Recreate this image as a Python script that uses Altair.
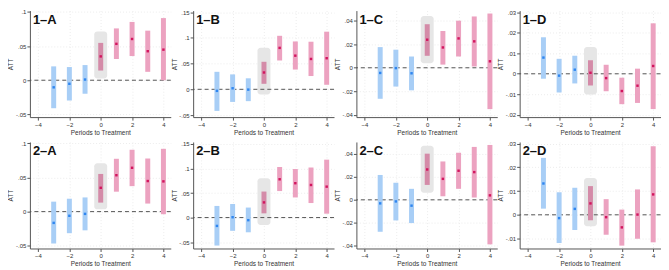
import altair as alt
import pandas as pd

periods = [-3, -2, -1, 0, 1, 2, 3, 4]
phases = ["pre", "pre", "pre", "treat", "post", "post", "post", "post"]

labels = ["1–A", "1–B", "1–C", "1–D", "2–A", "2–B", "2–C", "2–D"]

est_1A = [-0.0104, -0.0052, 0.001, 0.0349, 0.0533, 0.0604, 0.0425, 0.0448]
lo_1A = [-0.041, -0.0297, -0.0198, 0.0142, 0.0311, 0.0354, 0.0123, 0.0]
hi_1A = [0.0203, 0.0193, 0.0222, 0.0547, 0.0759, 0.0854, 0.0726, 0.091]
box_1A = [0.0024, 0.0712]

est_1B = [-0.003, 0.002, -0.0006, 0.0327, 0.0805, 0.0654, 0.059, 0.0604]
lo_1B = [-0.042, -0.0245, -0.023, 0.0107, 0.056, 0.0384, 0.0258, 0.0088]
hi_1B = [0.034, 0.029, 0.0214, 0.0535, 0.104, 0.093, 0.0925, 0.112]
box_1B = [-0.010, 0.081]

est_1C = [-0.0044, -0.0003, -0.0047, 0.0239, 0.0173, 0.025, 0.0225, 0.0055]
lo_1C = [-0.0264, -0.016, -0.0192, 0.0102, 0.0027, 0.0096, 0.0011, -0.0352]
hi_1C = [0.0176, 0.0154, 0.0096, 0.0371, 0.0313, 0.0401, 0.0437, 0.0462]
box_1C = [0.0038, 0.044]

est_1D = [0.0079, -0.0009, 0.002, 0.0005, -0.0021, -0.0084, -0.0058, 0.0038]
lo_1D = [-0.0024, -0.0091, -0.0047, -0.0057, -0.0085, -0.0148, -0.0142, -0.0172]
hi_1D = [0.0178, 0.0073, 0.0088, 0.0066, 0.0044, -0.0019, 0.0025, 0.0246]
box_1D = [-0.0101, 0.0131]

est_2A = [-0.0165, -0.0061, -0.0033, 0.0349, 0.0533, 0.0642, 0.0448, 0.0443]
lo_2A = [-0.0467, -0.0316, -0.0274, 0.0132, 0.0292, 0.0373, 0.0118, -0.0038]
hi_2A = [0.0146, 0.0189, 0.0208, 0.0552, 0.0774, 0.0906, 0.0778, 0.092]
box_2A = [0.0033, 0.0708]

est_2B = [-0.017, 0.0007, -0.0053, 0.0309, 0.078, 0.070, 0.0664, 0.063]
lo_2B = [-0.057, -0.027, -0.030, 0.0086, 0.054, 0.041, 0.0296, 0.0079]
hi_2B = [0.0237, 0.0276, 0.0204, 0.053, 0.103, 0.099, 0.102, 0.118]
box_2B = [-0.015, 0.080]

est_2C = [-0.0031, -0.0014, -0.0051, 0.0265, 0.0183, 0.0254, 0.0242, 0.0039]
lo_2C = [-0.0279, -0.018, -0.0203, 0.013, 0.0031, 0.0096, 0.002, -0.0389]
hi_2C = [0.0217, 0.0149, 0.0096, 0.0403, 0.0335, 0.0411, 0.0462, 0.0479]
box_2C = [0.0062, 0.0473]

est_2D = [0.0132, -0.0014, 0.0025, 0.0048, -0.001, -0.0053, 0.0001, 0.0086]
lo_2D = [0.0026, -0.0119, -0.0064, -0.0023, -0.0084, -0.013, -0.0101, -0.0116]
hi_2D = [0.024, 0.0095, 0.0114, 0.0121, 0.0066, 0.0022, 0.0107, 0.0289]
box_2D = [-0.0048, 0.0155]

ticks_A = [-0.05, 0, 0.05, 0.1]
ticks_B = [-0.05, 0, 0.05, 0.1, 0.15]
ticks_C = [-0.04, -0.02, 0, 0.02, 0.04]
ticks_1D = [-0.02, -0.01, 0, 0.01, 0.02, 0.03]
ticks_2D = [-0.01, 0, 0.01, 0.02, 0.03]

dom_1A = [-0.054, 0.102]
dom_1B = [-0.054, 0.153]
dom_1C = [-0.042, 0.0487]
dom_1D = [-0.0211, 0.0308]
dom_2A = [-0.054, 0.102]
dom_2B = [-0.063, 0.154]
dom_2C = [-0.0425, 0.0505]
dom_2D = [-0.0142, 0.0307]

x_ticks = [-4, -2, 0, 2, 4]
x_dom = [-4.2, 4.15]

panels = [
    (labels[0], est_1A, lo_1A, hi_1A, box_1A, ticks_A, dom_1A),
    (labels[1], est_1B, lo_1B, hi_1B, box_1B, ticks_B, dom_1B),
    (labels[2], est_1C, lo_1C, hi_1C, box_1C, ticks_C, dom_1C),
    (labels[3], est_1D, lo_1D, hi_1D, box_1D, ticks_1D, dom_1D),
    (labels[4], est_2A, lo_2A, hi_2A, box_2A, ticks_A, dom_2A),
    (labels[5], est_2B, lo_2B, hi_2B, box_2B, ticks_B, dom_2B),
    (labels[6], est_2C, lo_2C, hi_2C, box_2C, ticks_C, dom_2C),
    (labels[7], est_2D, lo_2D, hi_2D, box_2D, ticks_2D, dom_2D),
]

FONT = "Liberation Sans"
AX = dict(
    domainColor="#555", tickColor="#555", tickSize=3, labelFontSize=6,
    labelColor="#333", labelFont=FONT, titleFont=FONT, titleFontSize=6.5,
    titleFontWeight="normal", titleColor="#333", gridColor="#ececec",
    gridDash=[1, 2], labelPadding=1, labelOverlap=False,
)
PHASES = ["pre", "treat", "post"]


def make_panel(label, est, lo, hi, box, ticks, dom):
    df = pd.DataFrame({"t": periods, "est": est, "lo": lo, "hi": hi, "phase": phases})
    bdf = pd.DataFrame({"t": [0], "lo": [box[0]], "hi": [box[1]]})
    zdf = pd.DataFrame({"lo": [0]})
    xscale = alt.Scale(domain=x_dom, nice=False, zero=False)
    xaxis = alt.Axis(values=x_ticks, title="Periods to Treatment",
                     labelFlush=False, titlePadding=2, **AX)
    yscale = alt.Scale(domain=dom, nice=False, zero=False)
    yaxis = alt.Axis(values=ticks, title="ATT", minExtent=15, maxExtent=15,
                     titlePadding=1,
                     labelExpr="replace(toString(datum.value), '0.', '.')", **AX)

    def X():
        return alt.X("t:Q", scale=xscale, axis=xaxis)

    def Y(f):
        return alt.Y(f, scale=yscale, axis=yaxis)

    boxm = alt.Chart(bdf).mark_bar(size=13, color="#E6E6E6", cornerRadius=3).encode(
        x=X(), y=Y("lo:Q"), y2="hi:Q")
    zero = alt.Chart(zdf).mark_rule(
        strokeDash=[4, 3], color="#555", strokeWidth=1).encode(y=Y("lo:Q"))
    bars = alt.Chart(df).mark_bar(size=5).encode(
        x=X(), y=Y("lo:Q"), y2="hi:Q",
        color=alt.Color("phase:N", legend=None,
                        scale=alt.Scale(domain=PHASES,
                                        range=["#A8CEF6", "#D48BA8", "#ECA2C0"])))
    pts = alt.Chart(df).mark_square(size=6, opacity=1).encode(
        x=X(), y=Y("est:Q"),
        color=alt.Color("phase:N", legend=None,
                        scale=alt.Scale(domain=PHASES,
                                        range=["#2F86F0", "#D2155E", "#D2155E"])))
    txt = alt.Chart(pd.DataFrame({"label": [label]})).mark_text(
        font=FONT, fontSize=13, fontWeight="bold", align="left", baseline="middle",
        color="#111").encode(text="label:N", x=alt.value(3), y=alt.value(9))
    return alt.layer(boxm, zero, bars, pts, txt).resolve_scale(color="independent").properties(
        width=141.5, height=107)


charts = [make_panel(*p) for p in panels]
row1 = alt.hconcat(*charts[:4], spacing=0)
row2 = alt.hconcat(*charts[4:], spacing=0)
chart = alt.vconcat(row1, row2, spacing=4).properties(padding=0).configure_view(stroke=None)

chart.save("out.html", embed_options={"renderer": "svg", "actions": False})
